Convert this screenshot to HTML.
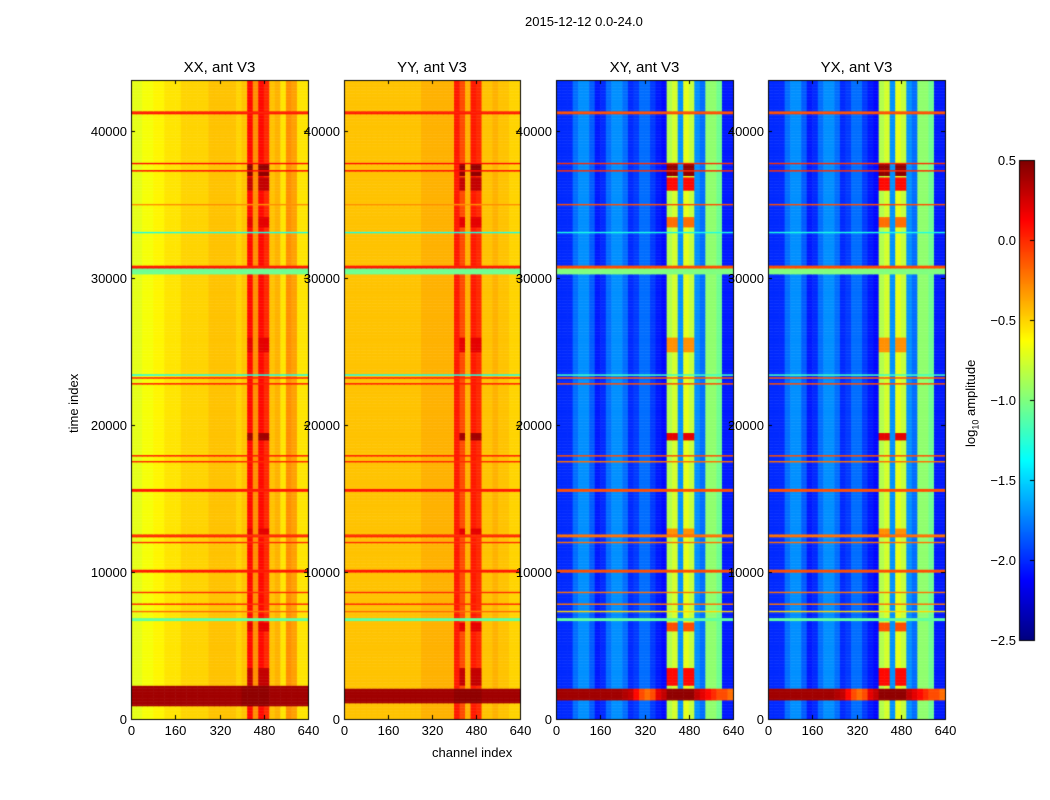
<!DOCTYPE html>
<html><head><meta charset="utf-8">
<style>
body{margin:0;background:#fff;font-family:"Liberation Sans",sans-serif;}
#wrap{position:relative;width:1050px;height:800px;overflow:hidden;}
canvas{position:absolute;left:0;top:0;}
.t{position:absolute;font-size:13px;color:#000;white-space:nowrap;}
</style></head><body>
<div id="wrap">
<canvas id="c" width="1050" height="800"></canvas>
<div class="t" style="left:525px;top:14px;">2015-12-12 0.0-24.0</div>
<div class="t" style="left:432px;top:745px;">channel index</div>
<div class="t" style="left:66px;top:433px;transform:rotate(-90deg);transform-origin:0 0;">time index</div>
<div class="t" style="left:963px;top:447px;transform:rotate(-90deg);transform-origin:0 0;">log<sub style="font-size:9px">10</sub> amplitude</div>
<div id="labels"></div>
</div>
<script>
const channelTicks=[0,160,320,480,640];
const timeTicks=[0,10000,20000,30000,40000];
const cbTicks=[0.5,0.0,-0.5,-1.0,-1.5,-2.0,-2.5];
const panelTitles=["XX, ant V3","YY, ant V3","XY, ant V3","YX, ant V3"];
// column profiles: 32 bins of 20 channels, log10 amplitude
const colXX=[-0.7,-0.7,-0.65,-0.65,-0.6,-0.6,-0.55,-0.55,-0.55,-0.5,-0.5,-0.5,-0.5,-0.5,-0.45,-0.45,-0.45,-0.45,-0.45,-0.5,-0.45,0.1,-0.3,0.1,0.0,-0.45,-0.4,-0.55,-0.3,-0.35,-0.55,-0.55];
const colYY=[-0.45,-0.45,-0.45,-0.45,-0.45,-0.45,-0.45,-0.45,-0.45,-0.45,-0.45,-0.45,-0.45,-0.45,-0.4,-0.4,-0.4,-0.4,-0.4,-0.4,0.05,-0.1,-0.4,0.05,0.0,-0.45,-0.45,-0.4,-0.45,-0.45,-0.5,-0.5];
const colXY=[-2.0,-2.0,-2.0,-1.8,-1.7,-1.7,-1.85,-2.05,-2.0,-1.8,-1.7,-1.7,-1.8,-2.0,-1.95,-1.8,-1.8,-1.95,-2.05,-2.1,-0.85,-0.75,-1.7,-0.7,-0.8,-1.7,-1.8,-0.95,-0.95,-1.05,-2.05,-2.05];
const colYX=[-2.0,-2.0,-2.0,-1.8,-1.7,-1.7,-1.85,-2.05,-2.0,-1.8,-1.7,-1.7,-1.8,-2.0,-1.95,-1.8,-1.8,-1.95,-2.05,-2.1,-0.85,-0.75,-1.7,-0.7,-0.8,-1.7,-1.8,-0.95,-0.95,-1.05,-2.05,-2.05];
// row events: full-width overrides
const rowStart=[41200,37750,37250,35000,33050,30300,30700,23400,23150,22750,17850,17450,15500,12400,11950,10000,8550,7720,7250,6700];
const rowEnd  =[41380,37900,37400,35080,33200,30700,30900,23480,23300,22900,17980,17580,15650,12520,12080,10150,8650,7820,7350,6820];
const rowValXX=[0.05,0.1,0.1,-0.3,-1.3,-1.05,0.05,-1.3,0.05,0.05,0.05,0.0,0.05,0.0,0.0,0.05,0.0,0.0,-0.2,-1.1];
const rowValXY=[-0.1,0.0,0.0,-0.1,-1.3,-1.0,-0.1,-1.2,-0.1,-0.1,-0.1,-0.2,-0.1,-0.2,-0.2,-0.1,-0.2,-0.2,-0.5,-1.1];
// hot patches in high channels
const hotStart=[36950,36000,33500,25000,19000,12500,6000,2300];
const hotEnd=[37800,36900,34200,26000,19500,13000,6600,3500];
const hotValXX=[0.45,0.3,0.2,0.2,0.4,0.2,0.2,0.3];
const hotValXY=[0.45,0.1,-0.2,-0.3,0.2,-0.3,-0.1,0.1];
const hotBinsXX=[21,23,24];
const hotBinsXY=[20,21,23,24];
// bottom band
const bandXX=[0.4,0.4,0.4,0.4,0.4,0.4,0.4,0.4,0.4,0.4,0.4,0.4,0.4,0.4,0.4,0.4,0.4,0.4,0.4,0.4,0.45,0.45,0.45,0.45,0.45,0.4,0.4,0.4,0.4,0.4,0.4,0.4];
const bandXY=[0.4,0.4,0.4,0.4,0.4,0.4,0.4,0.4,0.4,0.4,0.4,0.4,0.35,0.3,0.1,-0.1,-0.2,-0.1,0.2,0.3,0.45,0.45,0.45,0.45,0.45,0.3,0.2,0.1,0.0,-0.1,-0.1,-0.2];

const panels=[{x0:131,x1:308,col:colXX,rv:rowValXX,band:bandXX,bs:900,be:2250,hv:hotValXX,hb:hotBinsXX},
{x0:344,x1:520,col:colYY,rv:rowValXX,band:bandXX,bs:1100,be:2100,hv:hotValXX,hb:hotBinsXX},
{x0:556,x1:733,col:colXY,rv:rowValXY,band:bandXY,bs:1300,be:2100,hv:hotValXY,hb:hotBinsXY},
{x0:768,x1:945,col:colYX,rv:rowValXY,band:bandXY,bs:1300,be:2100,hv:hotValXY,hb:hotBinsXY}];
const Y0=719,Y1=80,TMAX=43500,CMAX=640;
function ys(t){return Y0-(t/TMAX)*(Y0-Y1);}
function jet(v){let x=(v+2.5)/3;x=Math.max(0,Math.min(1,x));
 const r=Math.max(0,Math.min(1,1.5-Math.abs(4*x-3))),g=Math.max(0,Math.min(1,1.5-Math.abs(4*x-2))),b=Math.max(0,Math.min(1,1.5-Math.abs(4*x-1)));
 return `rgb(${r*255|0},${g*255|0},${b*255|0})`;}
const cv=document.getElementById('c'),ctx=cv.getContext('2d');
const lab=document.getElementById('labels');
function label(txt,x,y,name,align){const d=document.createElement('div');d.className='t';d.textContent=txt;
 d.style.top=(y-8)+'px';
 if(align==='c'){d.style.left=(x-40)+'px';d.style.width='80px';d.style.textAlign='center';}
 else if(align==='r'){d.style.left=(x-80)+'px';d.style.width='80px';d.style.textAlign='right';}
 else d.style.left=x+'px';
 
 
 lab.appendChild(d);}
const step=100;
panels.forEach((p,pi)=>{
 const xs=c=>p.x0+(c/CMAX)*(p.x1-p.x0);
 for(let t=0;t<TMAX;t+=step){
  for(let b=0;b<32;b++){
   let v=p.col[b];
   if(p.hb.indexOf(b)>=0)for(let k=0;k<hotStart.length;k++)if(t>=hotStart[k]&&t<hotEnd[k])v=p.hv[k];
   if(t>=p.bs&&t<p.be)v=p.band[b];
   for(let k=0;k<rowStart.length;k++)if(t>=rowStart[k]&&t<rowEnd[k])v=p.rv[k];
   ctx.fillStyle=jet(v);
   const xa=xs(b*20),xb=xs(b*20+20),ya=ys(t+step),yb=ys(t);
   ctx.fillRect(xa,ya,xb-xa+0.5,yb-ya+0.5);
  }
 }
 ctx.strokeStyle='#000';ctx.lineWidth=1;
 ctx.strokeRect(p.x0+0.5,Y1+0.5,p.x1-p.x0,Y0-Y1);
 channelTicks.forEach(c=>{const x=Math.round(xs(c))+0.5;ctx.beginPath();ctx.moveTo(x,Y0);ctx.lineTo(x,Y0-4);ctx.moveTo(x,Y1);ctx.lineTo(x,Y1+4);ctx.stroke();
  label(String(c),x,Y0+12,'x-tick-label','c');});
 timeTicks.forEach(t=>{const y=Math.round(ys(t))+0.5;ctx.beginPath();ctx.moveTo(p.x0,y);ctx.lineTo(p.x0+4,y);ctx.moveTo(p.x1,y);ctx.lineTo(p.x1-4,y);ctx.stroke();
  label(String(t),p.x0-4,y,'y-tick-label','r');});
 const tt=document.createElement('div');tt.className='t';tt.style.fontSize='15px';tt.textContent=panelTitles[pi];
 tt.style.left=((p.x0+p.x1)/2-60)+'px';tt.style.width='120px';tt.style.textAlign='center';tt.style.top='59px';
 
 
 lab.appendChild(tt);
});
// colorbar
const cbx=1019,cbw=15,cbt=160,cbb=640;
for(let y=cbt;y<cbb;y++){const v=0.5-(y-cbt)/(cbb-cbt)*3;ctx.fillStyle=jet(v);ctx.fillRect(cbx,y,cbw,1);}
ctx.strokeStyle='#000';ctx.strokeRect(cbx+0.5,cbt+0.5,cbw,cbb-cbt);
cbTicks.forEach(v=>{const y=Math.round(cbt+(0.5-v)/3*(cbb-cbt))+0.5;ctx.beginPath();ctx.moveTo(cbx+cbw-4,y);ctx.lineTo(cbx+cbw,y);ctx.stroke();
 label((v===0?'0.0':v.toFixed(1)).replace('-','\u2212'),1016,y,'colorbar-tick-label','r');});
</script>
</body></html>
